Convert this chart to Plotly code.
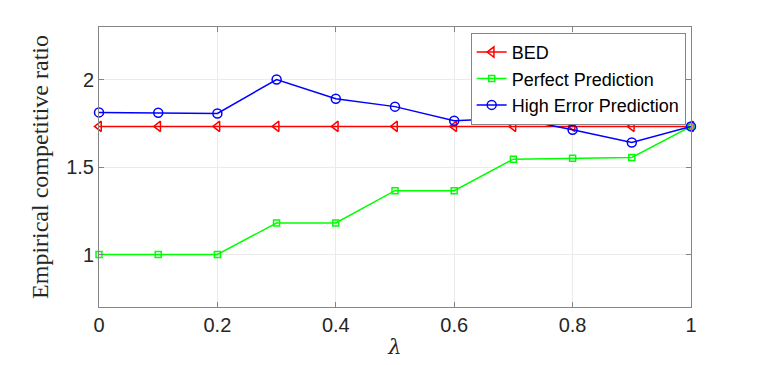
import plotly.graph_objects as go

# lambda values and competitive ratios
lam = [0, 0.1, 0.2, 0.3, 0.4, 0.5, 0.6, 0.7, 0.8, 0.9, 1.0]
bed = [1.732] * 11
perfect = [1.0, 1.0, 1.0, 1.18, 1.18, 1.365, 1.365, 1.545, 1.55, 1.555, 1.732]
high_err = [1.812, 1.81, 1.806, 2.0, 1.89, 1.845, 1.764, 1.78, 1.713, 1.64, 1.732]

y_ticks = [1, 1.5, 2]
x_ticks = [0, 0.2, 0.4, 0.6, 0.8, 1]

fig = go.Figure()

series = [
    ("BED", bed, "#ff0000", "triangle-left-open", 9),
    ("Perfect Prediction", perfect, "#00ff00", "square-open", 6),
    ("High Error Prediction", high_err, "#0000ff", "circle-open", 9),
]
for name, ys, color, symbol, size in series:
    fig.add_trace(go.Scatter(
        x=lam, y=ys, mode="lines+markers", name=name,
        line=dict(color=color, width=1.5),
        marker=dict(symbol=symbol, size=size, color=color,
                    line=dict(color=color, width=1.5)),
        cliponaxis=False,
    ))

axis_common = dict(
    showline=True, mirror="ticks", linecolor="#858585", linewidth=1,
    ticks="inside", ticklen=5, tickcolor="#858585",
    showgrid=True, gridcolor="#ebebeb", gridwidth=1, zeroline=False,
    tickfont=dict(family="Liberation Sans, Arial", size=20, color="#262626"),
    automargin=False,
)

fig.update_layout(
    width=764, height=365,
    margin=dict(l=91, r=81, t=19, b=66),
    paper_bgcolor="white", plot_bgcolor="white",
    xaxis=dict(range=[0, 1], tickvals=x_ticks, ticktext=["0", "0.2", "0.4", "0.6", "0.8", "1"],
               title=dict(text="<i>λ</i>", standoff=4,
                          font=dict(family="DejaVu Serif, serif", size=21, color="#262626")),
               **axis_common),
    yaxis=dict(range=[0.7, 2.3], tickvals=y_ticks, ticktext=["1", "1.5", "2"],
               title=dict(text="Empirical competitive ratio", standoff=10,
                          font=dict(family="Liberation Serif, serif", size=24, color="#262626")),
               **axis_common),
    legend=dict(x=0.991, xanchor="right", y=0.979, yanchor="top",
                bordercolor="#858585", borderwidth=1, bgcolor="white",
                font=dict(family="Liberation Sans, Arial", size=18, color="#000000"),
                tracegroupgap=0, itemwidth=30),
    showlegend=True,
)

fig.write_html("out.html")
